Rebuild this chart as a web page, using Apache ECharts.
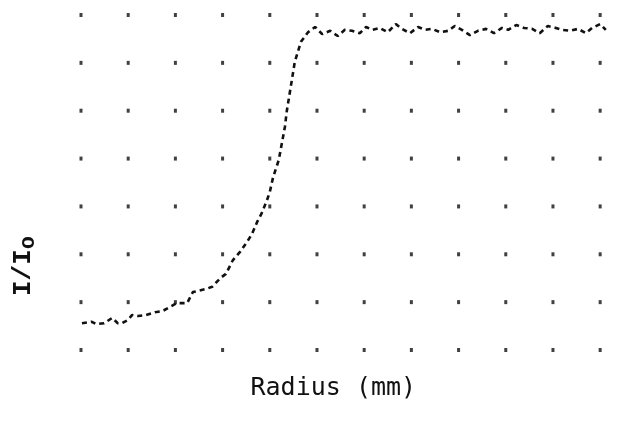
<!DOCTYPE html>
<html>
<head>
<meta charset="utf-8">
<script src="https://cdn.jsdelivr.net/npm/echarts@6/dist/echarts.min.js"></script>
<style>
html,body{margin:0;padding:0;background:#fff;}
#c{width:643px;height:425px;}
</style>
</head>
<body>
<div id="c"></div>
<script>
// Grid dot positions (axis units)
var xTicks = [0,1,2,3,4,5,6,7,8,9,10,11];
var yTicks = [0,1,2,3,4,5,6,7];

// Measured curve: radius (grid units) and I/Io (grid units)
var radius = [0.02,0.23,0.32,0.49,0.66,0.78,0.87,1.00,1.08,1.21,1.38,1.57,1.72,1.89,2.03,2.25,2.37,2.63,2.78,2.95,3.07,3.22,3.37,3.52,3.62,3.73,3.83,3.94,4.00,4.07,4.19,4.32,4.36,4.53,4.66,
  4.81,4.96,5.11,5.28,5.44,5.59,5.74,5.91,6.04,6.17,6.33,6.50,6.67,6.80,6.97,7.14,7.29,7.44,7.61,7.78,7.92,8.07,8.24,8.41,8.58,8.75,8.92,9.05,9.22,9.39,9.56,9.72,9.89,10.06,10.19,10.36,10.53,10.70,10.83,11.00,11.12];
var intensity = [0.56,0.59,0.54,0.56,0.67,0.56,0.56,0.63,0.73,0.71,0.73,0.79,0.81,0.90,0.98,0.98,1.21,1.27,1.32,1.50,1.59,1.88,2.05,2.26,2.42,2.67,2.86,3.13,3.30,3.61,3.97,4.66,4.99,6.02,6.44,
  6.64,6.75,6.60,6.67,6.56,6.69,6.67,6.62,6.75,6.69,6.73,6.64,6.81,6.71,6.62,6.75,6.69,6.71,6.64,6.67,6.77,6.69,6.58,6.67,6.71,6.62,6.73,6.69,6.79,6.73,6.71,6.62,6.77,6.73,6.69,6.67,6.71,6.62,6.73,6.81,6.69];

var xName = 'Radius (mm)';
var yNameMain = 'I/I';
var yNameSub = 'o';

var gridDots = [];
xTicks.forEach(function(x){ yTicks.forEach(function(y){ gridDots.push([x,y]); }); });
var curve = radius.map(function(r,i){ return [r, intensity[i]]; });

var chart = echarts.init(document.getElementById('c'), null, {renderer:'canvas'});
chart.setOption({
  animation:false,
  backgroundColor:'#fff',
  grid:{left:81, right:33.4, top:15, bottom:75},
  xAxis:{type:'value', min:0, max:11.2, interval:1,
    axisLine:{show:false}, axisTick:{show:false}, axisLabel:{show:false}, splitLine:{show:false},
    name:xName, nameLocation:'middle', nameGap:26,
    nameTextStyle:{fontFamily:'DejaVu Sans Mono', fontSize:25, color:'#111', padding:[0,24,0,0]}
  },
  yAxis:{type:'value', min:0, max:7, interval:1,
    axisLine:{show:false}, axisTick:{show:false}, axisLabel:{show:false}, splitLine:{show:false}
  },
  graphic:[{
    type:'text', left:10, top:236, rotation:Math.PI/2, originX:0, originY:0,
    style:{
      text:'{a|'+yNameMain+'}{b|'+yNameSub+'}',
      rich:{
        a:{fontFamily:'Liberation Mono', fontSize:26, fontWeight:'bold', fill:'#111'},
        b:{fontFamily:'Liberation Mono', fontSize:22, fontWeight:'bold', fill:'#111', padding:[10,0,0,0]}
      }
    }
  }],
  series:[
    {type:'scatter', data:gridDots, symbol:'rect', symbolSize:[3,4], itemStyle:{color:'#111'}, silent:true, z:1},
    {type:'line', data:curve, showSymbol:false, smooth:false,
      lineStyle:{color:'#111', width:2.6, type:[5,4]}, z:2}
  ]
});
</script>
</body>
</html>
